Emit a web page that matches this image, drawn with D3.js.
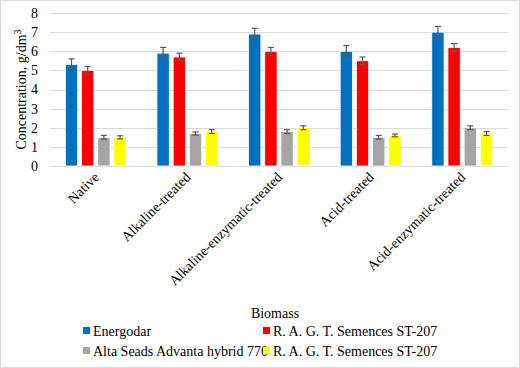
<!DOCTYPE html>
<html>
<head>
<meta charset="utf-8">
<script src="https://cdn.jsdelivr.net/npm/d3@7"></script>
</head>
<body style="margin:0">
<script>
// categories and series
const categories = ['Native', 'Alkaline-treated', 'Alkaline-enzymatic-treated', 'Acid-treated', 'Acid-enzymatic-treated'];
const seriesNames = ['Energodar', 'R. A. G. T. Semences ST-207', 'Alta Seads Advanta hybrid 770', 'R. A. G. T. Semences ST-207'];
const seriesColors = ['#0070C0', '#FF0000', '#A5A5A5', '#FFFF00'];

const energodar = [5.3, 5.9, 6.9, 6.0, 7.0];
const ragt1 = [5.0, 5.7, 6.0, 5.5, 6.2];
const alta = [1.5, 1.7, 1.8, 1.5, 2.0];
const ragt2 = [1.5, 1.8, 2.0, 1.6, 1.7];

const energodarErr = [0.3, 0.3, 0.3, 0.3, 0.3];
const ragt1Err = [0.2, 0.2, 0.2, 0.2, 0.2];
const altaErr = [0.1, 0.08, 0.1, 0.1, 0.1];
const ragt2Err = [0.08, 0.1, 0.1, 0.07, 0.1];

const yTicks = [0, 1, 2, 3, 4, 5, 6, 7, 8];

const values = [energodar, ragt1, alta, ragt2];
const errors = [energodarErr, ragt1Err, altaErr, ragt2Err];

const FONT = "'Liberation Serif', 'Times New Roman', Tinos, serif";

// touch the serif font once so it is loaded before drawing
const ctx = document.createElement('canvas').getContext('2d');
ctx.font = "14px 'Liberation Serif', serif";
ctx.measureText('Concentration Biomass');

const W = 520, H = 368;
const svg = d3.select('body').append('svg')
  .attr('width', W)
  .attr('height', H);

// outer frame
svg.append('rect')
  .attr('x', 0.5).attr('y', 0.5)
  .attr('width', W - 1).attr('height', H - 1)
  .attr('fill', '#fff')
  .attr('stroke', '#d9d9d9');

const plotLeft = 50, plotRight = 508, plotTop = 13, plotBottom = 166;

const x = d3.scaleBand().domain(categories).range([plotLeft, plotRight]);
const xs = d3.scaleBand().domain(d3.range(4)).range([0, x.bandwidth()])
  .paddingOuter(0.95).paddingInner(0.24);
const y = d3.scaleLinear().domain([0, 8]).range([plotBottom, plotTop]);

// gridlines
svg.append('g')
  .selectAll('line')
  .data(yTicks)
  .join('line')
  .attr('x1', plotLeft).attr('x2', plotRight)
  .attr('y1', d => Math.round(y(d)) + 0.5)
  .attr('y2', d => Math.round(y(d)) + 0.5)
  .attr('stroke', '#d9d9d9');

// y tick labels
svg.append('g')
  .selectAll('text')
  .data(yTicks)
  .join('text')
  .attr('x', 38)
  .attr('y', d => y(d))
  .attr('dy', '0.35em')
  .attr('text-anchor', 'end')
  .attr('font-family', FONT)
  .attr('font-size', 14)
  .text(d => d);

// y title
const yTitle = svg.append('text')
  .attr('transform', `translate(26,${(plotTop + plotBottom) / 2}) rotate(-90)`)
  .attr('text-anchor', 'middle')
  .attr('font-family', FONT)
  .attr('font-size', 14);
yTitle.append('tspan').text('Concentration, g/dm');
yTitle.append('tspan').attr('dy', -5).attr('font-size', 10).text('3');

// bars
const groups = svg.append('g')
  .selectAll('g')
  .data(categories)
  .join('g')
  .attr('transform', d => `translate(${x(d)},0)`);

groups.each(function (cat, ci) {
  const g = d3.select(this);
  values.forEach((vals, si) => {
    const v = vals[ci];
    const e = errors[si][ci];
    const bx = xs(si);
    g.append('rect')
      .attr('x', bx)
      .attr('y', y(v))
      .attr('width', xs.bandwidth())
      .attr('height', y(0) - y(v))
      .attr('fill', seriesColors[si])
      .attr('stroke', '#fff')
      .attr('stroke-width', 0.8);
    const cx = bx + xs.bandwidth() / 2;
    const eg = g.append('g').attr('stroke', '#595959').attr('stroke-width', 1.2);
    eg.append('line').attr('x1', cx).attr('x2', cx).attr('y1', y(v - e)).attr('y2', y(v + e));
    eg.append('line').attr('x1', cx - 3).attr('x2', cx + 3).attr('y1', y(v - e)).attr('y2', y(v - e));
    eg.append('line').attr('x1', cx - 3).attr('x2', cx + 3).attr('y1', y(v + e)).attr('y2', y(v + e));
  });
});

// x category labels, rotated
svg.append('g')
  .selectAll('text')
  .data(categories)
  .join('text')
  .attr('transform', d => `translate(${x(d) + x.bandwidth() / 2 + 4},${plotBottom + 12}) rotate(-45)`)
  .attr('text-anchor', 'end')
  .attr('font-family', FONT)
  .attr('font-size', 14)
  .text(d => d);

// x title
svg.append('text')
  .attr('x', 275)
  .attr('y', 318)
  .attr('text-anchor', 'middle')
  .attr('font-family', FONT)
  .attr('font-size', 14)
  .text('Biomass');

// legend
const legendPos = [[83, 331], [263, 331], [83, 351], [263, 351]];
const legend = svg.append('g')
  .selectAll('g')
  .data(seriesNames)
  .join('g')
  .attr('transform', (d, i) => `translate(${legendPos[i][0]},${legendPos[i][1]})`);
legend.append('rect')
  .attr('x', 0).attr('y', -4)
  .attr('width', 7).attr('height', 7)
  .attr('fill', (d, i) => seriesColors[i]);
legend.append('text')
  .attr('x', 10)
  .attr('y', 0)
  .attr('dy', '0.35em')
  .attr('font-family', FONT)
  .attr('font-size', 14)
  .text(d => d);
</script>
</body>
</html>
